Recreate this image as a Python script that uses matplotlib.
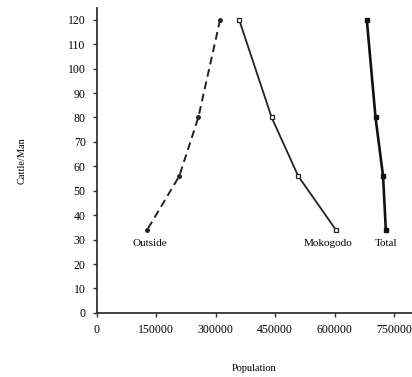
import matplotlib
matplotlib.use("Agg")
import matplotlib.pyplot as plt

cattle_per_man = [120, 80, 56, 34]
outside = [311000, 256000, 208000, 127000]
mokogodo = [359000, 441000, 508000, 603000]
total = [681000, 703000, 722000, 729000]
xticks = [0, 150000, 300000, 450000, 600000, 750000]
yticks = list(range(0, 121, 10))

plt.rcParams['font.family'] = ['Liberation Serif', 'DejaVu Serif']

fig = plt.figure(figsize=(4.12, 3.77), dpi=100)
ax = fig.add_axes([0.235, 0.17, 0.765, 0.81])

ax.plot(outside, cattle_per_man, color='#222222', lw=1.4, ls=(0, (4, 2.5)),
        marker='o', ms=2.5, mfc='#222222', mec='#222222')
ax.plot(mokogodo, cattle_per_man, color='#222222', lw=1.3,
        marker='s', ms=3.2, mfc='white', mec='#222222', mew=0.9)
ax.plot(total, cattle_per_man, color='#111111', lw=1.9,
        marker='s', ms=2.8, mfc='#111111', mec='#111111')

ax.text(outside[-1] + 7000, 28.5, 'Outside', ha='center', va='center', fontsize=8)
ax.text(mokogodo[-1] - 20000, 28.5, 'Mokogodo', ha='center', va='center', fontsize=8)
ax.text(total[-1], 28.5, 'Total', ha='center', va='center', fontsize=8)

ax.set_xlim(0, 795000)
ax.set_ylim(0, 125)
ax.set_xticks(xticks)
ax.set_xticklabels([str(v) for v in xticks])
ax.set_yticks(yticks)
for s in ['top', 'right']:
    ax.spines[s].set_visible(False)
for s in ['left', 'bottom']:
    ax.spines[s].set_linewidth(1.3)
    ax.spines[s].set_color('#333333')
ax.tick_params(axis='both', labelsize=8.5, length=3, width=1, color='#333333', pad=5)
ax.set_xlabel('Population', fontsize=7.5, labelpad=20)
ax.set_ylabel('Cattle/Man', fontsize=7.5, labelpad=30)

fig.savefig('out.png', dpi=100)
